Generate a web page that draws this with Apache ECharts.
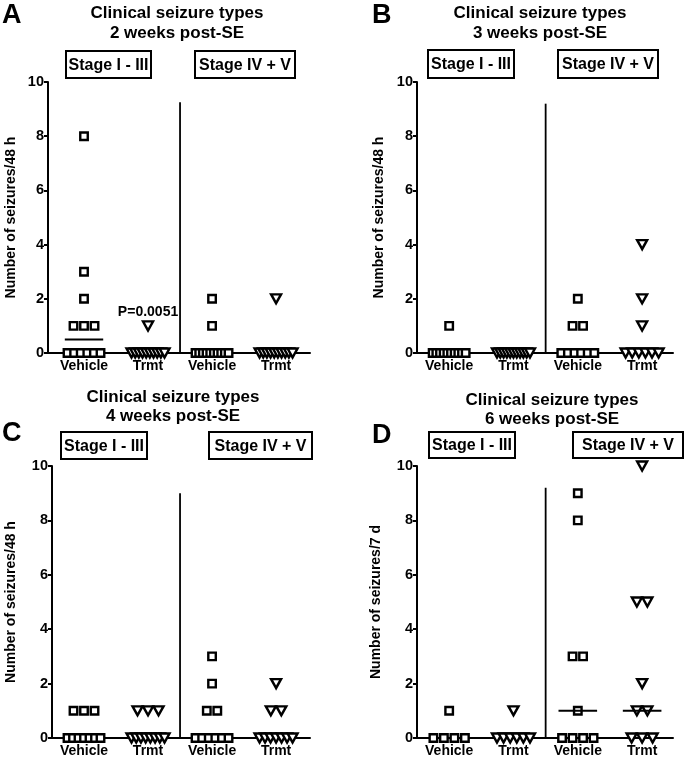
<!DOCTYPE html>
<html><head><meta charset="utf-8">
<script src="https://cdn.jsdelivr.net/npm/echarts@6/dist/echarts.min.js"></script>
<style>html,body{margin:0;padding:0;background:#fff}#c{width:685px;height:761px}</style>
</head><body><div id="c"></div>
<script>
// ---------- text ----------
const categories = ['Vehicle', 'Trmt', 'Vehicle', 'Trmt'];
const panelLetters = ['A', 'B', 'C', 'D'];
const titleLine1 = 'Clinical seizure types';
const titleLine2 = ['2 weeks post-SE', '3 weeks post-SE', '4 weeks post-SE', '6 weeks post-SE'];
const stageLabels = ['Stage I - III', 'Stage IV + V'];
const yAxisNames = ['Number of seizures/48 h', 'Number of seizures/48 h', 'Number of seizures/48 h', 'Number of seizures/7 d'];
const yMin = 0, yMax = 10, yInterval = 2;
const dividerTop = [9.25, 9.2, 9.0, 9.2];
const pValueText = 'P=0.0051';
const pValueAt = [1, 1.5];

// ---------- data (seizures per animal) ----------
const week2VehicleStageI  = [0, 0, 0, 0, 0, 0, 1, 1, 1, 2, 3, 8];
const week2TrmtStageI     = [0, 0, 0, 0, 0, 0, 0, 0, 0, 0, 1];
const week2VehicleStageIV = [0, 0, 0, 0, 0, 0, 0, 0, 0, 0, 1, 2];
const week2TrmtStageIV    = [0, 0, 0, 0, 0, 0, 0, 0, 0, 0, 2];

const week3VehicleStageI  = [0, 0, 0, 0, 0, 0, 0, 0, 0, 0, 1];
const week3TrmtStageI     = [0, 0, 0, 0, 0, 0, 0, 0, 0, 0, 0];
const week3VehicleStageIV = [0, 0, 0, 0, 0, 0, 1, 1, 2];
const week3TrmtStageIV    = [0, 0, 0, 0, 0, 0, 1, 2, 4];

const week4VehicleStageI  = [0, 0, 0, 0, 0, 0, 0, 1, 1, 1];
const week4TrmtStageI     = [0, 0, 0, 0, 0, 0, 0, 0, 1, 1, 1];
const week4VehicleStageIV = [0, 0, 0, 0, 0, 0, 1, 1, 2, 3];
const week4TrmtStageIV    = [0, 0, 0, 0, 0, 0, 0, 1, 1, 2];

const week6VehicleStageI  = [0, 0, 0, 0, 1];
const week6TrmtStageI     = [0, 0, 0, 0, 0, 0, 1];
const week6VehicleStageIV = [0, 0, 0, 0, 1, 3, 3, 8, 9];
const week6TrmtStageIV    = [0, 0, 0, 1, 1, 2, 5, 5, 10];

const panelData = [
  [week2VehicleStageI, week2TrmtStageI, week2VehicleStageIV, week2TrmtStageIV],
  [week3VehicleStageI, week3TrmtStageI, week3VehicleStageIV, week3TrmtStageIV],
  [week4VehicleStageI, week4TrmtStageI, week4VehicleStageIV, week4TrmtStageIV],
  [week6VehicleStageI, week6TrmtStageI, week6VehicleStageIV, week6TrmtStageIV]
];
const showMedian = [[true, false, false, false], [false, false, false, false], [false, false, false, false], [false, false, true, true]];

// ---------- layout ----------
const FONT = "'Liberation Sans', Arial, Helvetica, sans-serif";
const grids = [
  { left: 48, top: 82, width: 262, height: 271 },
  { left: 417, top: 82, width: 256, height: 271 },
  { left: 52, top: 466, width: 258, height: 272 },
  { left: 417, top: 466, width: 256, height: 272 }
];
const xRanges = [[-0.5625, 3.53], [-0.5, 3.48], [-0.5, 3.53], [-0.5, 3.48]];
const nameGaps = [30, 31, 34, 34];
const titleCenters = [[177, 13, 33], [540, 13, 33], [173, 397, 416], [552, 400, 419]];
const letterPos = [[2, 16], [372, 16], [2, 434], [372, 436]];
const stageBoxes = [
  [[66, 51, 85, 27], [195, 51, 100, 27]],
  [[428, 50, 86, 28], [558, 50, 100, 28]],
  [[61, 432, 86, 27], [209, 432, 103, 27]],
  [[429, 432, 86, 26], [573, 432, 110, 26]]
];

function spread(values, center, pxPerUnit) {
  const counts = new Map();
  values.forEach(v => counts.set(v, (counts.get(v) || 0) + 1));
  const out = [];
  counts.forEach((n, v) => {
    const sp = n > 1 ? Math.min(10.5, 33 / (n - 1)) : 0;
    for (let i = 0; i < n; i++) out.push([center + (i - (n - 1) / 2) * sp / pxPerUnit, v]);
  });
  return out;
}
function median(values) {
  const s = values.slice().sort((a, b) => a - b);
  const m = Math.floor(s.length / 2);
  return s.length % 2 ? s[m] : (s[m - 1] + s[m]) / 2;
}

const option = {
  backgroundColor: '#fff',
  animation: false,
  grid: grids.map(g => Object.assign({ containLabel: false }, g)),
  xAxis: grids.map((g, i) => ({
    type: 'value', gridIndex: i, min: xRanges[i][0], max: xRanges[i][1],
    splitLine: { show: false },
    axisLine: { show: true, onZero: false, lineStyle: { color: '#000', width: 2 } },
    axisTick: { show: false },
    axisLabel: {
      customValues: [0, 1, 2, 3],
      formatter: v => categories[Math.round(v)],
      color: '#000', fontFamily: FONT, fontWeight: 'bold', fontSize: 14, margin: 6
    }
  })),
  yAxis: grids.map((g, i) => ({
    type: 'value', gridIndex: i, min: yMin, max: yMax, interval: yInterval,
    name: yAxisNames[i], nameLocation: 'middle', nameGap: nameGaps[i],
    nameTextStyle: { color: '#000', fontFamily: FONT, fontWeight: 'bold', fontSize: 14 },
    splitLine: { show: false },
    axisLine: { show: true, onZero: false, lineStyle: { color: '#000', width: 2 } },
    axisTick: { show: true, length: 4, lineStyle: { color: '#000', width: 2 } },
    axisLabel: { color: '#000', fontFamily: FONT, fontWeight: 'bold', fontSize: 14.5, margin: 4 }
  })),
  series: [],
  graphic: []
};

panelData.forEach((groups, p) => {
  const g = grids[p];
  const ppu = g.width / (xRanges[p][1] - xRanges[p][0]);
  option.series.push({
    type: 'line', xAxisIndex: p, yAxisIndex: p, symbol: 'none', silent: true,
    data: [[1.5, 0], [1.5, dividerTop[p]]],
    lineStyle: { color: '#000', width: 1.8 }, z: 1
  });
  groups.forEach((vals, k) => {
    const isTrmt = k % 2 === 1;
    option.series.push({
      type: 'scatter', xAxisIndex: p, yAxisIndex: p, clip: false,
      data: spread(vals, k, ppu),
      symbol: isTrmt ? 'triangle' : 'rect',
      symbolRotate: isTrmt ? 180 : 0,
      symbolSize: isTrmt ? [10, 9] : 7.5,
      itemStyle: { color: '#fff', borderColor: '#000', borderWidth: 2.4, opacity: 1 },
      z: 3
    });
    if (showMedian[p][k]) {
      const m = median(vals);
      option.series.push({
        type: 'line', xAxisIndex: p, yAxisIndex: p, symbol: 'none', silent: true,
        data: [[k - 0.3, m], [k + 0.3, m]],
        lineStyle: { color: '#000', width: 2 }, z: 4
      });
    }
  });
  const tc = titleCenters[p];
  option.graphic.push({ type: 'text', x: tc[0], y: tc[1], style: { text: titleLine1, fill: '#000', font: 'bold 17px ' + FONT, textAlign: 'center', textVerticalAlign: 'middle' } });
  option.graphic.push({ type: 'text', x: tc[0], y: tc[2], style: { text: titleLine2[p], fill: '#000', font: 'bold 17px ' + FONT, textAlign: 'center', textVerticalAlign: 'middle' } });
  option.graphic.push({ type: 'text', x: letterPos[p][0], y: letterPos[p][1], style: { text: panelLetters[p], fill: '#000', font: 'bold 27px ' + FONT, textAlign: 'left', textVerticalAlign: 'middle' } });
  stageBoxes[p].forEach((b, j) => {
    option.graphic.push({ type: 'rect', shape: { x: b[0], y: b[1], width: b[2], height: b[3] }, style: { fill: '#fff', stroke: '#000', lineWidth: 2 } });
    option.graphic.push({ type: 'text', x: b[0] + b[2] / 2, y: b[1] + b[3] / 2 + 1, style: { text: stageLabels[j], fill: '#000', font: 'bold 16px ' + FONT, textAlign: 'center', textVerticalAlign: 'middle' } });
  });
});

option.series.push({
  type: 'scatter', xAxisIndex: 0, yAxisIndex: 0, symbolSize: 1, silent: true,
  itemStyle: { color: '#fff', opacity: 1 },
  data: [pValueAt],
  label: { show: true, position: 'inside', formatter: pValueText, color: '#000', opacity: 1, textBorderWidth: 0, fontFamily: FONT, fontWeight: 'bold', fontSize: 14 },
  z: 5
});

const chart = echarts.init(document.getElementById('c'), null, { renderer: 'canvas' });
chart.setOption(option);
</script>
</body></html>
